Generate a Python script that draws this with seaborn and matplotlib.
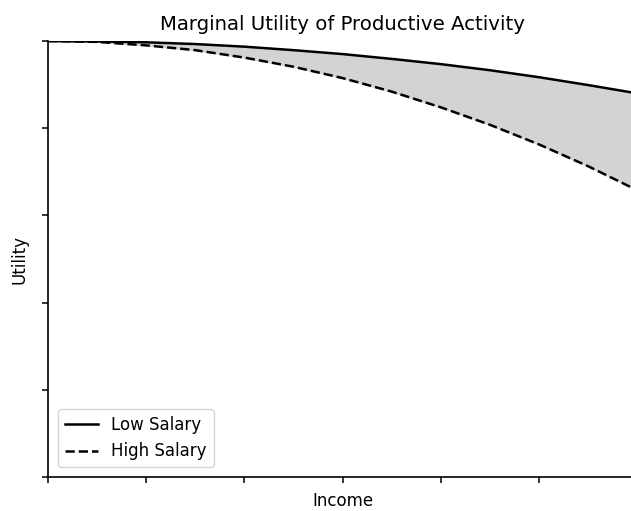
import numpy as np
import pandas as pd
import matplotlib
matplotlib.use("Agg")
import matplotlib.pyplot as plt
import seaborn as sns

# Values
income = [0, 0.5, 1, 1.5, 2, 2.5, 3, 3.5, 4, 4.5, 5, 5.5, 6]
low_salary = [1.0, 0.999, 0.997, 0.993, 0.987, 0.979, 0.970, 0.959, 0.947, 0.933, 0.917, 0.899, 0.880]
high_salary = [1.0, 0.998, 0.990, 0.979, 0.962, 0.941, 0.915, 0.884, 0.848, 0.808, 0.763, 0.713, 0.658]

df = pd.DataFrame({
    "Income": income * 2,
    "Utility": low_salary + high_salary,
    "Salary": ["Low Salary"] * len(income) + ["High Salary"] * len(income),
})

plt.rcParams["font.family"] = ["DejaVu Sans"]
plt.rcParams["font.size"] = 12
plt.rcParams["axes.linewidth"] = 1.2
plt.rcParams["xtick.major.size"] = 4.3
plt.rcParams["ytick.major.size"] = 4.3
plt.rcParams["xtick.major.width"] = 1.1
plt.rcParams["ytick.major.width"] = 1.1

fig = plt.figure(figsize=(6.31, 5.11), dpi=100)
ax = fig.add_axes([48 / 631, 34 / 511, 589 / 631, 436 / 511])

ax.fill_between(income, high_salary, low_salary, color="lightgray")
sns.lineplot(data=df, x="Income", y="Utility", style="Salary", color="black",
             linewidth=1.8, ax=ax,
             dashes={"Low Salary": "", "High Salary": (3.7, 1.6)})

ax.set_xlim(0, 6)
ax.set_ylim(0, 1)
ax.set_xticks([0, 1, 2, 3, 4, 5, 6])
ax.set_yticks([0, 0.2, 0.4, 0.6, 0.8, 1.0])
ax.set_xticklabels([])
ax.set_yticklabels([])
ax.set_title("Marginal Utility of Productive Activity", fontsize=14.2, pad=8)
ax.set_xlabel("Income", fontsize=12, labelpad=3)
ax.set_ylabel("Utility", fontsize=12, labelpad=6)
ax.legend(loc="lower left", title=None, fontsize=12, borderaxespad=0.6)
sns.despine(ax=ax)

fig.savefig("out.png", dpi=100)
